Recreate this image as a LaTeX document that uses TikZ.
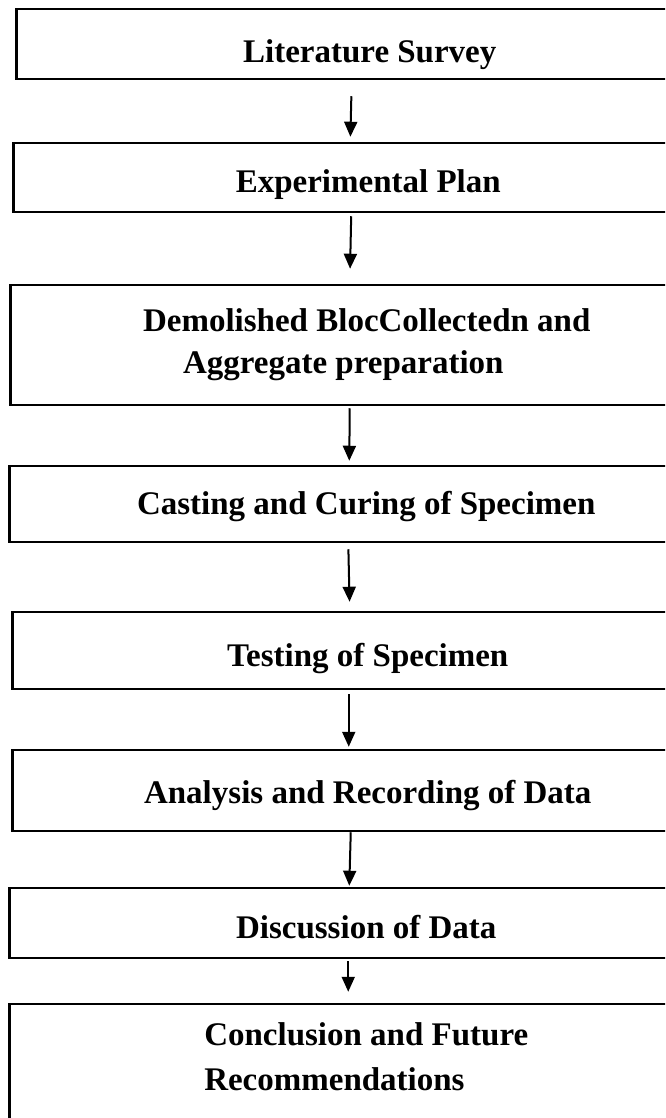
\documentclass[tikz,border=0pt]{standalone}
\usepackage{fontspec}
\setmainfont{Liberation Serif}
\usetikzlibrary{arrows.meta}

\begin{document}
\begin{tikzpicture}[x=1pt,y=-1pt,
        stepbox/.style={draw, line width=2.5pt, anchor=west, inner sep=0pt,
            font=\bfseries\fontsize{33}{42}\selectfont},
        textdrop/.style={text depth=0pt, text height=#1},
        flow/.style={-{Triangle[length=15pt,width=13pt]}, line width=2pt}]
        \useasboundingbox (0,0) rectangle (665,1118);
        \clip (0,0) rectangle (665,1118);

        \node[stepbox, textdrop=38pt, minimum width=707, minimum height=70] (survey) at (15,44) {Literature Survey};
        \node[stepbox, textdrop=31pt, minimum width=710, minimum height=69] (plan) at (12,177.5) {Experimental Plan};
        \node[stepbox, minimum width=713, minimum height=120, align=left] (demol) at (9,345)
            {Demolished BlocCollectedn and\\\hspace*{40pt}Aggregate preparation};
        \node[stepbox, textdrop=21pt, minimum width=714, minimum height=76] (cast) at (8,504) {Casting and Curing of Specimen};
        \node[stepbox, textdrop=31pt, minimum width=711, minimum height=77] (test) at (11,650.5) {Testing of Specimen};
        \node[stepbox, textdrop=25pt, minimum width=711, minimum height=81] (anal) at (11,790.5) {Analysis and Recording of Data};
        \node[stepbox, textdrop=30pt, minimum width=714, minimum height=70] (disc) at (8,923) {Discussion of Data};
        \node[stepbox, minimum width=714, minimum height=126, align=left] (concl) at (8,1067)
            {Conclusion and Future\\[3pt]Recommendations\rule[-20pt]{0pt}{20pt}};

        \draw[flow, shorten <=16pt, shorten >=5pt] ([xshift=-18pt]survey.south) -- ([xshift=-18pt]plan.north);
        \draw[flow, shorten <=3pt, shorten >=15pt] ([xshift=-17pt]plan.south) -- ([xshift=-17pt]demol.north);
        \draw[flow, shorten <=2pt, shorten >=4pt] ([xshift=-17pt]demol.south) -- ([xshift=-17pt]cast.north);
        \draw[flow, shorten <=6pt, shorten >=9pt] ([xshift=-18pt]cast.south) -- ([xshift=-18pt]test.north);
        \draw[flow, shorten <=4pt, shorten >=2pt] ([xshift=-19pt]test.south) -- ([xshift=-19pt]anal.north);
        \draw[flow, shorten >=1pt] ([xshift=-17pt]anal.south) -- ([xshift=-17pt]disc.north);
        \draw[flow, shorten <=2pt, shorten >=11pt] ([xshift=-18pt]disc.south) -- ([xshift=-18pt]concl.north);
    \end{tikzpicture}
\end{document}
